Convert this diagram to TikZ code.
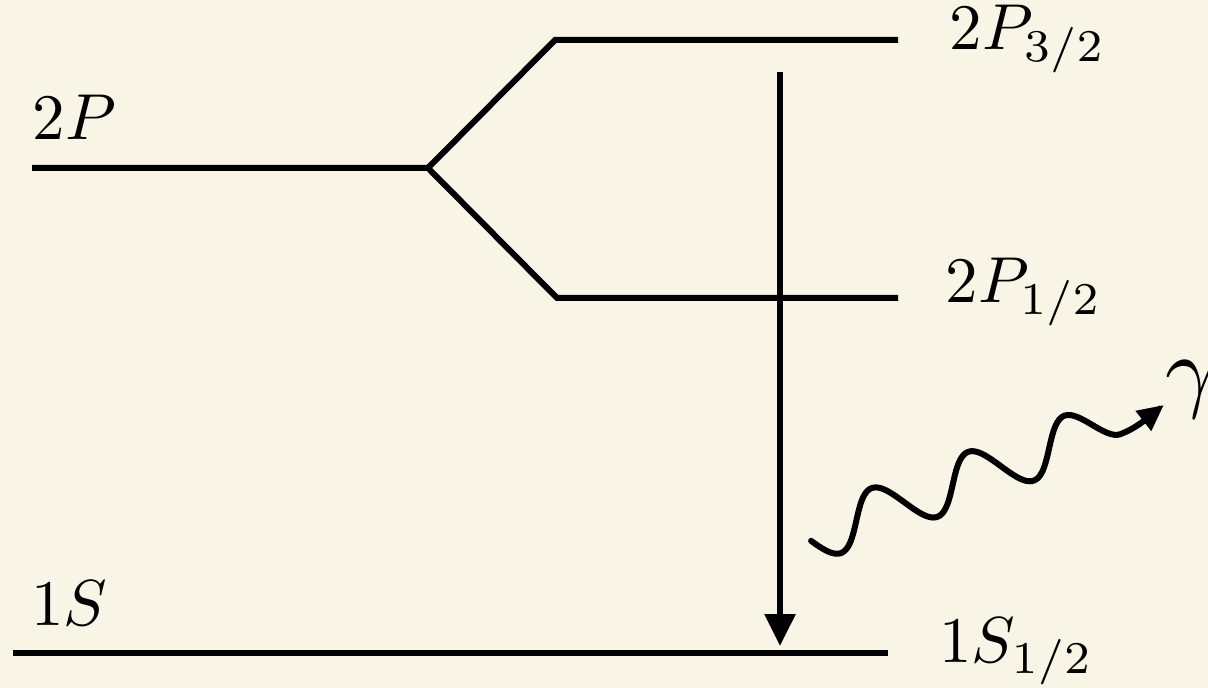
\documentclass[tikz,border=0pt]{standalone}
\usetikzlibrary{arrows.meta}
\definecolor{bgcol}{RGB}{248,244,230}
\begin{document}
\begin{tikzpicture}[x=0.5pt,y=-0.5pt,
  level/.style={line width=3pt,line join=miter},
  trans/.style={line width=3pt,-{Triangle[length=16pt,width=15pt]}},
  wave/.style={line width=3pt,line cap=round,-{Triangle[length=13pt,width=12pt]}},
  lbl/.style={inner sep=0pt,anchor=base west,scale=3.25},
  glbl/.style={inner sep=0pt,anchor=base west,scale=4.6}]
\fill[bgcol] (0,0) rectangle (1208,688);
\useasboundingbox (0,0) rectangle (1208,688);
\clip (0,0) rectangle (1208,688);
% level coordinates
\coordinate (pL) at (32,168);
\coordinate (pJ) at (428,168);
\coordinate (p3a) at (555,40);
\coordinate (p3b) at (898,40);
\coordinate (p1a) at (557,298);
\coordinate (p1b) at (898,298);
\coordinate (sL) at (13,653);
\coordinate (sR) at (888,653);
\coordinate (aT) at (780,72);
\coordinate (aB) at (780,646);
% levels
\draw[level] (pL) -- (pJ) -- (p3a) -- (p3b);
\draw[level] (pJ) -- (p1a) -- (p1b);
\draw[level] (sL) -- (sR);
% transition arrow
\draw[trans] (aT) -- (aB);
% photon
\begin{scope}[shift={(810,538)},rotate=20.6]
\draw[wave] plot[domain=0:281.25,samples=150] (\x,{25*sin(3.49515*(\x+2))})
  .. controls (297,-25) and (311,12) .. (327,12)
  .. controls (345,12) and (362,5) .. (378,0);
\end{scope}
% labels
\node[lbl] (t2p) at (31.5,140) {$2P$};
\node[lbl] (t2p3) at (948.5,50) {$2P_{3/2}$};
\node[lbl] (t2p1) at (944.5,303) {$2P_{1/2}$};
\node[lbl] (t1s) at (30,625) {$1S$};
\node[lbl] (t1s1) at (938,662) {$1S_{1/2}$};
\node[glbl] (tg) at (1164,401) {$\gamma$};
\end{tikzpicture}
\end{document}
